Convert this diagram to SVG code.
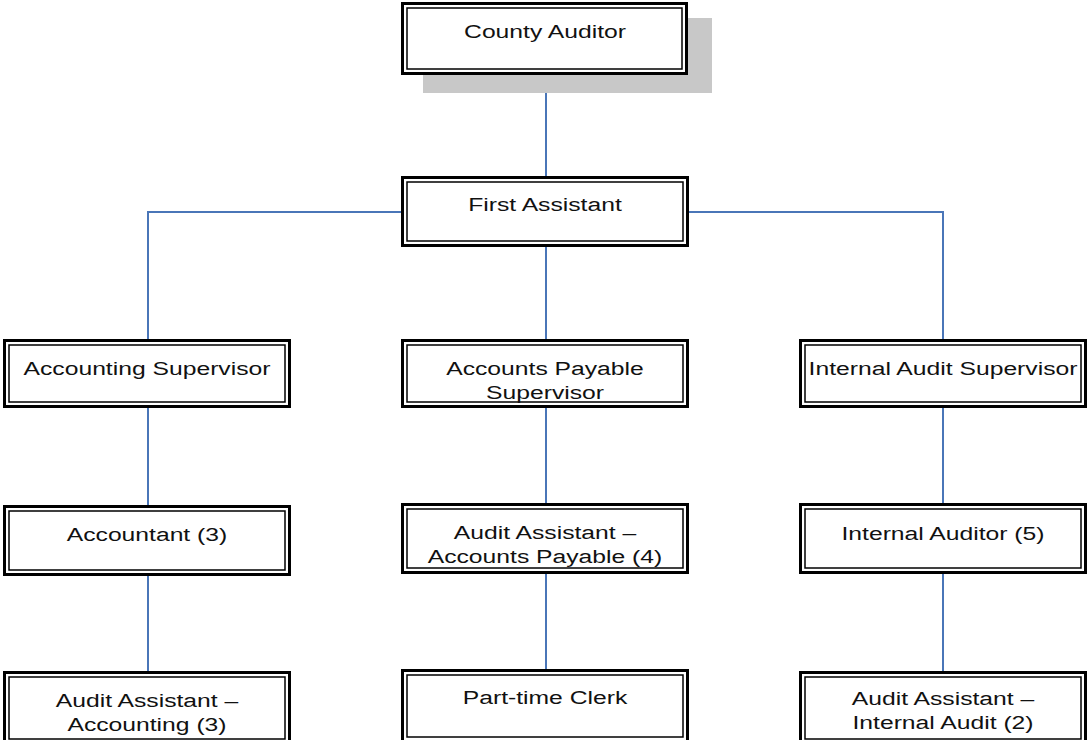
<svg xmlns="http://www.w3.org/2000/svg" width="1088" height="740" viewBox="0 0 1088 740">
<style>
.o{fill:#fff;stroke:#000;stroke-width:3}
.i{fill:none;stroke:#000;stroke-width:1.5}
.t{font-family:"Liberation Sans",Arial,sans-serif;font-size:19px;fill:#111;text-anchor:middle}
.c{stroke:#4a76b8;stroke-width:2;fill:none}
</style>
<rect width="1088" height="740" fill="#fff"/>
<g id="connectors">
<path class="c" d="M546 75V176M546 247V339M401 212H148V339M689 212H943V339M148 408V505M148 576V671M546 408V503M546 574V671M943 408V503M943 574V671"/>
</g>
<g id="county-auditor">
<rect x="423" y="18" width="289" height="75" fill="#c8c8c8"/>
<rect class="o" x="402.5" y="3.5" width="284" height="70"/><rect class="i" x="407" y="8" width="275" height="61"/>
<text class="t" transform="translate(545 0) scale(1.3 1)" y="38">County Auditor</text>
</g>
<g id="first-assistant">
<rect class="o" x="402.5" y="177.5" width="285" height="68"/><rect class="i" x="407" y="182" width="276" height="59"/>
<text class="t" transform="translate(545 0) scale(1.3 1)" y="211">First Assistant</text>
</g>
<g id="accounting-supervisor">
<rect class="o" x="4.5" y="340.5" width="285" height="66"/><rect class="i" x="9" y="345" width="276" height="57"/>
<text class="t" transform="translate(147 0) scale(1.3 1)" y="375">Accounting Supervisor</text>
</g>
<g id="ap-supervisor">
<rect class="o" x="402.5" y="340.5" width="285" height="66"/><rect class="i" x="407" y="345" width="276" height="57"/>
<text class="t" transform="translate(545 0) scale(1.3 1)" y="375">Accounts Payable</text><text class="t" transform="translate(545 0) scale(1.3 1)" y="399">Supervisor</text>
</g>
<g id="ia-supervisor">
<rect class="o" x="800.5" y="340.5" width="285" height="66"/><rect class="i" x="805" y="345" width="276" height="57"/>
<text class="t" transform="translate(943 0) scale(1.3 1)" y="375">Internal Audit Supervisor</text>
</g>
<g id="accountant">
<rect class="o" x="4.5" y="506.5" width="285" height="68"/><rect class="i" x="9" y="511" width="276" height="59"/>
<text class="t" transform="translate(147 0) scale(1.3 1)" y="541">Accountant (3)</text>
</g>
<g id="audit-assistant-ap">
<rect class="o" x="402.5" y="504.5" width="285" height="68"/><rect class="i" x="407" y="509" width="276" height="59"/>
<text class="t" transform="translate(545 0) scale(1.3 1)" y="539">Audit Assistant –</text><text class="t" transform="translate(545 0) scale(1.3 1)" y="563">Accounts Payable (4)</text>
</g>
<g id="internal-auditor">
<rect class="o" x="800.5" y="504.5" width="285" height="68"/><rect class="i" x="805" y="509" width="276" height="59"/>
<text class="t" transform="translate(943 0) scale(1.3 1)" y="540">Internal Auditor (5)</text>
</g>
<g id="audit-assistant-accounting">
<rect class="o" x="4.5" y="672.5" width="285" height="72"/><rect class="i" x="9" y="677" width="276" height="62"/>
<text class="t" transform="translate(147 0) scale(1.3 1)" y="707">Audit Assistant –</text><text class="t" transform="translate(147 0) scale(1.3 1)" y="731">Accounting (3)</text>
</g>
<g id="part-time-clerk">
<rect class="o" x="402.5" y="670.5" width="285" height="72"/><rect class="i" x="407" y="675" width="276" height="62"/>
<text class="t" transform="translate(545 0) scale(1.3 1)" y="704">Part-time Clerk</text>
</g>
<g id="audit-assistant-ia">
<rect class="o" x="800.5" y="672.5" width="285" height="72"/><rect class="i" x="805" y="677" width="276" height="62"/>
<text class="t" transform="translate(943 0) scale(1.3 1)" y="705">Audit Assistant –</text><text class="t" transform="translate(943 0) scale(1.3 1)" y="729">Internal Audit (2)</text>
</g>
</svg>
